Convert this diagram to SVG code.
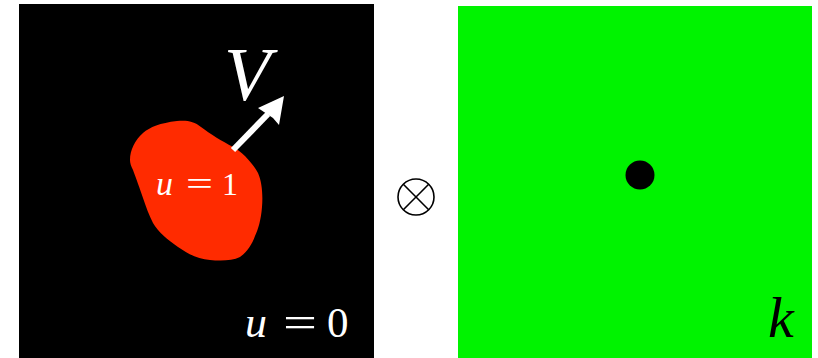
<svg xmlns="http://www.w3.org/2000/svg" width="818" height="358" viewBox="0 0 818 358">
  <style>
    .mi { font-family: "Liberation Serif", "DejaVu Serif", serif; font-style: italic; }
    .mn { font-family: "Liberation Serif", "DejaVu Serif", serif; }
    .w { fill: #ffffff; }
  </style>
  <rect width="818" height="358" fill="#ffffff"/>
  <g id="left-panel">
    <rect x="19" y="4" width="355" height="354" fill="#000000"/>
    <path id="blob" fill="#ff2b00" d="M130,160 C130,150 135,140 143,133 C150,127 160,123 177,121 C186,120 194,121 201,127 C210,134 222,141 233,147 C242,152 252,162 258,173 C262,182 263,195 262,207 C261,220 258,230 255,236 C252,245 246,253 240,257 C232,261 220,261 210,260 C198,259 188,254 178,247 C168,240 158,232 153,223 C149,215 146,207 143,198 C140,189 136,178 133,170 C131,166 130,163 130,160 Z"/>
    <g id="arrow-V">
      <line x1="233" y1="150" x2="268" y2="114" stroke="#ffffff" stroke-width="6"/>
      <polygon points="284,96 258,108 267,114 273,118 279,125" fill="#ffffff"/>
      <text class="mi w" x="224" y="100" font-size="76">V</text>
    </g>
    <g id="label-u1" class="w">
      <text class="mi" x="156" y="195" font-size="34">u</text>
      <text class="mn" x="186" y="195" font-size="34" textLength="27" lengthAdjust="spacingAndGlyphs">=</text>
      <text class="mn" x="222" y="195" font-size="32">1</text>
    </g>
    <g id="label-u0" class="w">
      <text class="mi" x="245" y="337" font-size="44">u</text>
      <text class="mn" x="283" y="337" font-size="44" textLength="34" lengthAdjust="spacingAndGlyphs">=</text>
      <text class="mn" x="327" y="337" font-size="43">0</text>
    </g>
  </g>
  <g id="otimes" fill="none" stroke="#000000" stroke-width="1.6">
    <circle cx="416" cy="197" r="18"/>
    <line x1="403.3" y1="184.3" x2="428.7" y2="209.7"/>
    <line x1="428.7" y1="184.3" x2="403.3" y2="209.7"/>
  </g>
  <g id="right-panel">
    <rect x="458" y="6" width="354" height="352" fill="#00f300"/>
    <circle cx="640" cy="175" r="14.5" fill="#000000"/>
    <text class="mi" x="768" y="337" font-size="58" fill="#000000">k</text>
  </g>
</svg>
